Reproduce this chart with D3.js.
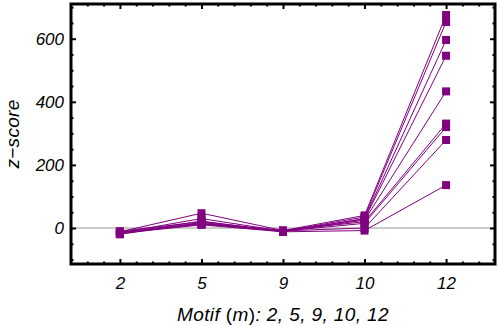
<!DOCTYPE html>
<html lang="en">
<head>
  <meta charset="UTF-8">
  <title>z-score by motif</title>
  <style>
    body { margin: 0; background: #fff; }
    text { font-family: "Liberation Sans", Arial, sans-serif; font-style: italic; fill: #000; }
    .domain { display: none; }
    .tick line { stroke: #000; stroke-width: 2px; }
  </style>
  <script src="https://cdn.jsdelivr.net/npm/d3@7"></script>
</head>
<body>
<script>
var motifs = ["2", "5", "9", "10", "12"];

var s1 = [-12, 47, -8, 40, 675];
var s2 = [-15, 30, -10, 35, 653];
var s3 = [-18, 22, -12, 30, 596];
var s4 = [-10, 20, -9, 28, 546];
var s5 = [-20, 18, -11, 25, 433];
var s6 = [-14, 15, -8, 20, 331];
var s7 = [-16, 12, -10, 15, 320];
var s8 = [-13, 14, -9, 0, 279];
var s9 = [-17, 10, -12, -8, 136];
var series = [s1, s2, s3, s4, s5, s6, s7, s8, s9];

var yMajor = [0, 200, 400, 600];

var width = 498, height = 325;
var pLeft = 71, pRight = 495, pTop = 4, pBottom = 264;
var color = "#800080";

var x = d3.scaleLinear().domain([0.4, 5.6]).range([pLeft, pRight]);
var y = d3.scaleLinear().domain([-114, 710]).range([pBottom, pTop]);

var svg = d3.select("body").append("svg")
    .attr("width", width)
    .attr("height", height);

// zero line
svg.append("line")
    .attr("x1", pLeft).attr("x2", pRight)
    .attr("y1", y(0)).attr("y2", y(0))
    .attr("stroke", "#999").attr("stroke-width", 1);

var xMinor = d3.range(0.6, 5.5, 0.2).filter(function(v) { return Math.abs(v - Math.round(v)) > 0.01; });
var yMinor = d3.range(-100, 701, 50).filter(function(v) { return v % 200 !== 0; });

// bottom axis with labels
svg.append("g")
    .attr("transform", "translate(0," + pBottom + ")")
    .call(d3.axisBottom(x).tickValues([1, 2, 3, 4, 5])
        .tickSizeInner(-5).tickSizeOuter(0).tickPadding(13)
        .tickFormat(function(d) { return motifs[d - 1]; }))
    .selectAll("text").style("font-size", "17px").attr("fill", "#000");
svg.append("g")
    .attr("transform", "translate(0," + pBottom + ")")
    .call(d3.axisBottom(x).tickValues(xMinor).tickSizeInner(-2.5).tickSizeOuter(0).tickFormat(""));

// top axis
svg.append("g")
    .attr("transform", "translate(0," + pTop + ")")
    .call(d3.axisTop(x).tickValues([1, 2, 3, 4, 5]).tickSizeInner(-5).tickSizeOuter(0).tickFormat(""));
svg.append("g")
    .attr("transform", "translate(0," + pTop + ")")
    .call(d3.axisTop(x).tickValues(xMinor).tickSizeInner(-2.5).tickSizeOuter(0).tickFormat(""));

// left axis with labels
svg.append("g")
    .attr("transform", "translate(" + pLeft + ",0)")
    .call(d3.axisLeft(y).tickValues(yMajor)
        .tickSizeInner(-5).tickSizeOuter(0).tickPadding(7))
    .selectAll("text").style("font-size", "17px").attr("fill", "#000");
svg.append("g")
    .attr("transform", "translate(" + pLeft + ",0)")
    .call(d3.axisLeft(y).tickValues(yMinor).tickSizeInner(-2.5).tickSizeOuter(0).tickFormat(""));

// right axis
svg.append("g")
    .attr("transform", "translate(" + pRight + ",0)")
    .call(d3.axisRight(y).tickValues(yMajor).tickSizeInner(-5).tickSizeOuter(0).tickFormat(""));
svg.append("g")
    .attr("transform", "translate(" + pRight + ",0)")
    .call(d3.axisRight(y).tickValues(yMinor).tickSizeInner(-2.5).tickSizeOuter(0).tickFormat(""));

// frame
svg.append("rect")
    .attr("x", pLeft).attr("y", pTop)
    .attr("width", pRight - pLeft).attr("height", pBottom - pTop)
    .attr("fill", "none").attr("stroke", "#000").attr("stroke-width", 3);

// series lines
var line = d3.line()
    .x(function(d, i) { return x(i + 1); })
    .y(function(d) { return y(d); });

svg.append("g").selectAll("path")
    .data(series)
  .enter().append("path")
    .attr("d", line)
    .attr("fill", "none")
    .attr("stroke", color)
    .attr("stroke-width", 1);

// markers
var ms = 8;
series.forEach(function(s) {
  svg.append("g").selectAll("rect")
      .data(s)
    .enter().append("rect")
      .attr("x", function(d, i) { return x(i + 1) - ms / 2; })
      .attr("y", function(d) { return y(d) - ms / 2; })
      .attr("width", ms).attr("height", ms)
      .attr("fill", color);
});

// axis titles
var xt = svg.append("text")
    .attr("x", (pLeft + pRight) / 2).attr("y", 321)
    .attr("text-anchor", "middle")
    .style("font-size", "19px")
    .style("letter-spacing", "0.4px");
xt.append("tspan").text("Motif ");
xt.append("tspan").style("font-style", "normal").text("(");
xt.append("tspan").text("m");
xt.append("tspan").style("font-style", "normal").text(")");
xt.append("tspan").text(": 2, 5, 9, 10, 12");

svg.append("text")
    .attr("transform", "translate(19," + (pTop + pBottom) / 2 + ") rotate(-90)")
    .attr("text-anchor", "middle")
    .style("font-size", "19px")
    .style("letter-spacing", "0.3px")
    .text("z\u2212score");
</script>
</body>
</html>
